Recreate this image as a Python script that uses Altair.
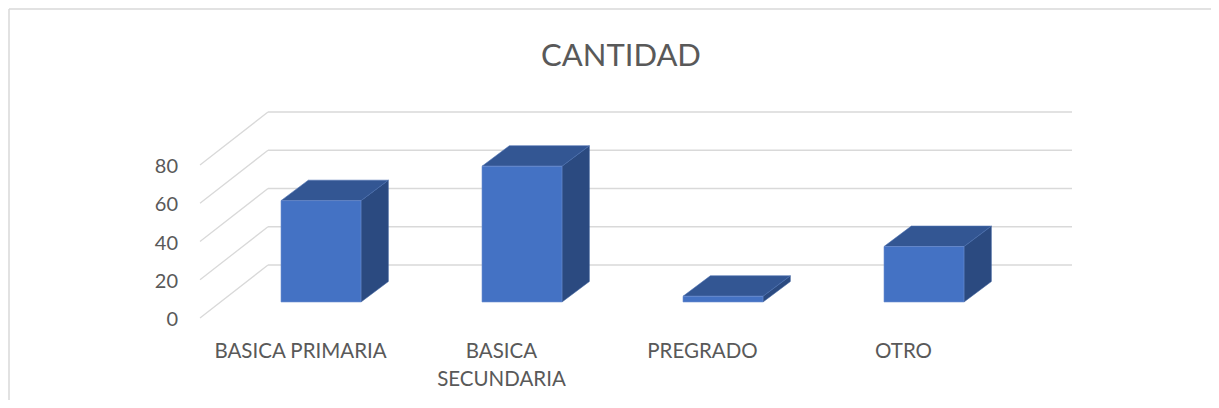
import altair as alt
import pandas as pd

# ---- data ----
categories = ["BASICA PRIMARIA", "BASICA SECUNDARIA", "PREGRADO", "OTRO"]
category_labels = ["BASICA PRIMARIA", "BASICA\nSECUNDARIA", "PREGRADO", "OTRO"]
values = [53, 71, 3, 29]
ticks = [0, 20, 40, 60, 80]
title_text = "CANTIDAD"

# ---- oblique 3D projection constants (in scale units) ----
WALL_DU, WALL_DV = 0.3383, 27.71      # front plane -> back wall
BAR_FU, BAR_FV = 0.102, 8.37          # front plane -> bar front face
BAR_DU, BAR_DV = 0.136, 10.7          # bar depth
BAR_HALF = 0.199                      # half bar width (category units)

W, H = 1203, 392
xs = alt.Scale(domain=[0, 4], range=[192, 996], nice=False, zero=False)
ys = alt.Scale(domain=[0, 80], range=[310, 157], nice=False, zero=False)

FRONT = "#4472C4"
TOP = "#335693"
SIDE = "#2B4A80"
GRID = "#D9D9D9"
TXT = "#595959"
FONT = "Lato"

# gridlines
diag = pd.DataFrame({
    "x": [0.0] * len(ticks), "y": ticks,
    "x2": [WALL_DU] * len(ticks), "y2": [t + WALL_DV for t in ticks],
})
back = pd.DataFrame({
    "x": [WALL_DU] * len(ticks), "y": [t + WALL_DV for t in ticks],
    "x2": [4 + WALL_DU] * len(ticks),
})

front_rows, top_rows, side_rows = [], [], []
for i, (c, v) in enumerate(zip(categories, values)):
    left = i + 0.5 + BAR_FU - BAR_HALF
    right = i + 0.5 + BAR_FU + BAR_HALF
    front_rows.append({"cat": c, "x": left, "x2": right, "y": BAR_FV, "y2": v + BAR_FV})
    top_rows.append({"cat": c, "y": v + BAR_FV, "x": left, "x2": right})
    top_rows.append({"cat": c, "y": v + BAR_FV + BAR_DV, "x": left + BAR_DU, "x2": right + BAR_DU})
    side_rows.append({"cat": c, "x": right, "y": BAR_FV, "y2": v + BAR_FV})
    side_rows.append({"cat": c, "x": right + BAR_DU, "y": BAR_FV + BAR_DV, "y2": v + BAR_FV + BAR_DV})
front_df = pd.DataFrame(front_rows)
top_df = pd.DataFrame(top_rows)
side_df = pd.DataFrame(side_rows)

cat_df = pd.DataFrame({"u": [i + 0.5 for i in range(len(categories))], "label": category_labels})
tick_df = pd.DataFrame({"u": [0.0] * len(ticks), "v": ticks, "label": [str(t) for t in ticks]})

X = lambda f: alt.X(f, type="quantitative", scale=xs, axis=None)
Y = lambda f: alt.Y(f, type="quantitative", scale=ys, axis=None)

border_left = alt.Chart(pd.DataFrame({"a": [0]})).mark_rule(color=GRID, strokeWidth=1.5).encode(
    x=alt.value(1), y=alt.value(1), y2=alt.value(H))
border_top = alt.Chart(pd.DataFrame({"a": [0]})).mark_rule(color=GRID, strokeWidth=1.5).encode(
    x=alt.value(1), x2=alt.value(W), y=alt.value(1))

diag_l = alt.Chart(diag).mark_rule(color=GRID, strokeWidth=1.3).encode(
    x=X("x"), y=Y("y"), x2="x2", y2="y2")
back_l = alt.Chart(back).mark_rule(color=GRID, strokeWidth=1.3).encode(
    x=X("x"), y=Y("y"), x2="x2")

side = alt.Chart(side_df).mark_area(orient="vertical", color=SIDE, stroke="#3d5f9c", strokeWidth=0.6).encode(
    x=X("x"), y=Y("y"), y2="y2", detail="cat:N")
top = alt.Chart(top_df).mark_area(orient="horizontal", color=TOP, stroke="#4a6fb0", strokeWidth=0.6).encode(
    y=Y("y"), x=X("x"), x2="x2", detail="cat:N")
front = alt.Chart(front_df).mark_rect(color=FRONT, stroke="#6d8fd0", strokeWidth=0.6).encode(
    x=X("x"), x2="x2", y=Y("y"), y2="y2")

cat_text = alt.Chart(cat_df).mark_text(
    font=FONT, fontSize=20.5, color=TXT, baseline="alphabetic", align="center",
    lineBreak="\n", lineHeight=28).encode(
    x=X("u"), y=alt.value(350), text="label:N")
tick_text = alt.Chart(tick_df).mark_text(
    font=FONT, fontSize=20, color=TXT, baseline="middle", align="right", dx=-22, dy=2).encode(
    x=X("u"), y=Y("v"), text="label:N")
title = alt.Chart(pd.DataFrame({"t": [title_text]})).mark_text(
    font=FONT, fontSize=31, color=TXT, baseline="alphabetic", align="center").encode(
    x=alt.value(613), y=alt.value(58), text="t:N")

chart = alt.layer(
    border_left, border_top, diag_l, back_l, side, top, front, cat_text, tick_text, title
).properties(
    width=W, height=H, autosize=alt.AutoSizeParams(type="none"), padding=0, background="white"
).configure_view(stroke=None)

chart.save("out.html", embed_options={"renderer": "svg", "actions": False})
